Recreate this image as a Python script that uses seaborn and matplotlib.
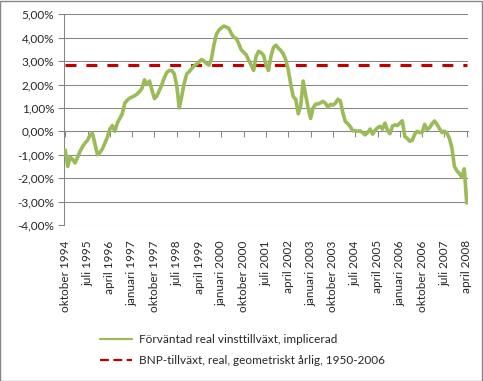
import matplotlib
matplotlib.use('Agg')
import matplotlib.pyplot as plt
import seaborn as sns
import pandas as pd
import numpy as np
from matplotlib.lines import Line2D
from matplotlib.patches import Rectangle

# monthly values, oktober 1994 .. april 2008 (percent)
earnings_growth = [
    -0.80, -1.50, -1.10, -1.20, -1.35, -1.10, -0.85, -0.65, -0.50, -0.38,
    -0.15, -0.08, -0.55, -1.00, -0.90, -0.75, -0.50, -0.25, 0.10, 0.25,
    0.00, 0.35, 0.55, 0.75, 1.20, 1.33, 1.42, 1.47, 1.52, 1.60,
    1.70, 1.85, 2.20, 2.00, 2.15, 1.75, 1.40, 1.52, 1.75, 2.00,
    2.30, 2.52, 2.60, 2.60, 2.45, 1.95, 1.00, 1.50, 2.05, 2.45,
    2.55, 2.68, 2.80, 2.87, 2.97, 3.07, 3.00, 2.90, 2.83, 3.10,
    3.70, 4.15, 4.32, 4.42, 4.50, 4.45, 4.40, 4.18, 4.02, 3.97,
    3.75, 3.48, 3.38, 3.27, 3.05, 2.82, 2.60, 3.20, 3.42, 3.36,
    3.25, 2.85, 2.60, 3.20, 3.58, 3.68, 3.55, 3.45, 3.30, 3.05,
    2.62, 2.00, 1.48, 1.37, 0.75, 1.09, 2.15, 1.55, 1.00, 0.55,
    1.00, 1.16, 1.17, 1.22, 1.28, 1.20, 1.03, 1.15, 1.12, 1.20,
    1.37, 1.30, 0.80, 0.42, 0.33, 0.20, 0.02, 0.03, 0.00, 0.02,
    -0.06, -0.15, -0.05, 0.10, -0.12, 0.05, 0.15, 0.22, 0.10, 0.35,
    0.05, -0.10, 0.22, 0.28, 0.25, 0.35, 0.45, -0.22, -0.30, -0.42,
    -0.38, -0.12, 0.00, -0.05, -0.05, 0.30, 0.08, 0.15, 0.33, 0.44,
    0.30, 0.12, -0.05, 0.01, -0.08, -0.30, -0.70, -1.50, -1.68, -1.80,
    -1.95, -1.60, -3.06,
]
gdp_growth = 2.82

tick_labels = [
    'oktober 1994', 'juli 1995', 'april 1996', 'januari 1997', 'oktober 1997',
    'juli 1998', 'april 1999', 'januari 2000', 'oktober 2000', 'juli 2001',
    'april 2002', 'januari 2003', 'oktober 2003', 'juli 2004', 'april 2005',
    'januari 2006', 'oktober 2006', 'juli 2007', 'april 2008',
]
label_step = 9

series_labels = ['Förväntad real vinsttillväxt, implicerad',
                 'BNP-tillväxt, real, geometriskt årlig, 1950-2006']

df = pd.DataFrame({'period': np.arange(len(earnings_growth)),
                   'vinst': earnings_growth})
df['bnp'] = gdp_growth

sns.set_style('white')
plt.rcParams['font.family'] = ['Lato', 'DejaVu Sans']

GREEN = '#9BBB59'
RED = '#C00000'
GRAY = '#868686'

fig = plt.figure(figsize=(4.83, 3.81), dpi=100)
ax = fig.add_axes([64 / 483, 1 - 225 / 381, 404 / 483, (225 - 14.3) / 381])

sns.lineplot(data=df, x='period', y='vinst', color=GREEN, lw=2.6, ax=ax, zorder=4)
sns.lineplot(data=df, x='period', y='bnp', color=RED, lw=2.25, ax=ax, zorder=3)
ax.lines[-1].set_dashes((3.5, 3.2))

ax.set_xlim(-0.5, len(earnings_growth) - 0.5)
ax.set_ylim(-4, 5)
ax.set_yticks(range(-4, 6))
ax.set_yticklabels([f'{v:.2f}%'.replace('.', ',') for v in range(-4, 6)])
ax.yaxis.grid(True, color=GRAY, lw=0.75)
ax.tick_params(axis='y', left=True, length=4, color=GRAY, labelsize=8.5, pad=3)

tick_pos = list(range(0, len(earnings_growth), label_step))
ax.set_xticks(tick_pos)
ax.set_xticklabels(tick_labels, rotation=90)
ax.tick_params(axis='x', length=0, labelsize=8.5, pad=11)
ax.set_xlabel('')
ax.set_ylabel('')

for side in ['top', 'right', 'bottom']:
    ax.spines[side].set_visible(False)
ax.spines['left'].set_color(GRAY)
ax.spines['left'].set_linewidth(0.75)

# horizontal axis line with tick marks at 0 %
sec = ax.secondary_xaxis(4 / 9)
sec.set_xticks(tick_pos)
sec.tick_params(length=4, color=GRAY, width=0.75, labelbottom=False, labeltop=False)
for sp in sec.spines.values():
    sp.set_color(GRAY)
    sp.set_linewidth(0.75)

handles = [Line2D([], [], color=GREEN, lw=1.6),
           Line2D([], [], color=RED, lw=1.6, linestyle=(0, (4, 2)))]
fig.legend(handles, series_labels, loc='center', bbox_to_anchor=(0.503, 0.081),
           frameon=False, fontsize=8.5, handlelength=2.7, handletextpad=0.6,
           labelspacing=0.85)

fig.patches.append(Rectangle((0.001, 0.001), 0.996, 0.996, transform=fig.transFigure,
                             fill=False, edgecolor=GRAY, lw=1))

fig.savefig('out.png', dpi=100)
